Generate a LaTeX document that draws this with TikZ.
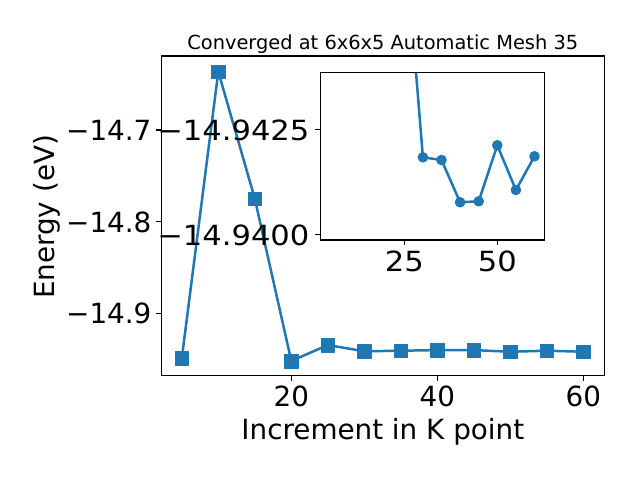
\documentclass[tikz,border=0pt]{standalone}
\usepackage{fontspec}
\setmainfont{DejaVu Sans}
\usetikzlibrary{plotmarks}
\definecolor{mplblue}{HTML}{1F77B4}
\newcommand{\insetwide}[1]{\scalebox{1.1}[1]{#1}}
\begin{document}
\begin{tikzpicture}[x=1pt,y=-1pt,
            lbl/.style={inner sep=0pt,font=\fontsize{27.8}{30}\selectfont},
            xt/.style={lbl,anchor=base},
            yt/.style={lbl,anchor=base east},
            tk/.style={line width=1.1pt},
            curve/.style={mplblue,line width=2.5pt,line join=round}]
            \fill[white] (0,0) rectangle (640,480);
            \useasboundingbox (0,0) rectangle (640,480);
            % main axes
            \draw[tk] (161.3,56) rectangle (604.3,375.7);
            \foreach \k in {20,40,60}
                \draw[tk] (145.3+7.3*\k,375.7)--+(0,4.9);
            \foreach \v in {0,1,2}
                \draw[tk] (161.3,130+91.7*\v)--+(-4.9,0);
            \begin{scope}[shift={(145.3,130)},x=7.3pt,y=0.917pt]
                \draw[curve,mark=square*,mark size=6.9pt,mark options={line width=0.5pt}]
                plot coordinates {(5,-249.0) (10,63.6) (15,-74.9) (20,-251.9)
                    (25,-234.5) (30,-241.3) (35,-240.7) (40,-240.0) (45,-240.0)
                    (50,-241.8) (55,-240.7) (60,-241.8)};
            \end{scope}
            \path
            (291.3,406.7) node[xt] (m20) {20} % <<< x
            ++(146,0) node[xt] (m40) {40}
            ++(146,0) node[xt] (m60) {60}
            (151.6,140.5) node[yt] (m147) {−14.7} % <<< y
            ++(0,91.7) node[yt] (m148) {−14.8}
            ++(0,91.7) node[yt] (m149) {−14.9};
            \node[lbl,anchor=base] (title) at (382.8,49)
                {\fontsize{19.4}{22}\selectfont Converged at 6x6x5 Automatic Mesh 35};
            \node[xt] (xlab) at (382.8,439.3) {Increment in K point};
            \node[lbl,rotate=90,anchor=base] (ylab) at (54.3,217) {Energy (eV)};
            % inset
            \fill[white] (320.3,72.3) rectangle (544.3,240);
            \begin{scope}
                \clip (320.3,72.3) rectangle (544.3,240);
                \begin{scope}[shift={(311.3,129.3)},x=3.72pt,y=-4.2pt]
                    \draw[curve,mark=*,mark size=4pt]
                    plot coordinates {(25,-48) (30,6.67) (35,7.31) (40,17.38)
                        (45,17.14) (50,3.81) (55,14.45) (60,6.43)};
                \end{scope}
            \end{scope}
            \draw[tk] (320.3,72.3) rectangle (544.3,240);
            \foreach \k in {25,50}
                \draw[tk] (311.3+3.72*\k,240)--+(0,4.9);
            \foreach \v in {0,1}
                \draw[tk] (320.3,129.3+105*\v)--+(-4.9,0);
            \path
            (404.3,271.7) node[xt] (i25) {\insetwide{25}} % <<< inset x
            ++(93,0) node[xt] (i50) {\insetwide{50}}
            (309.6,140.3) node[yt] (i9425) {\insetwide{−14.9425}} % <<< inset y
            ++(0,105) node[yt] (i9400) {\insetwide{−14.9400}};
        \end{tikzpicture}
\end{document}
